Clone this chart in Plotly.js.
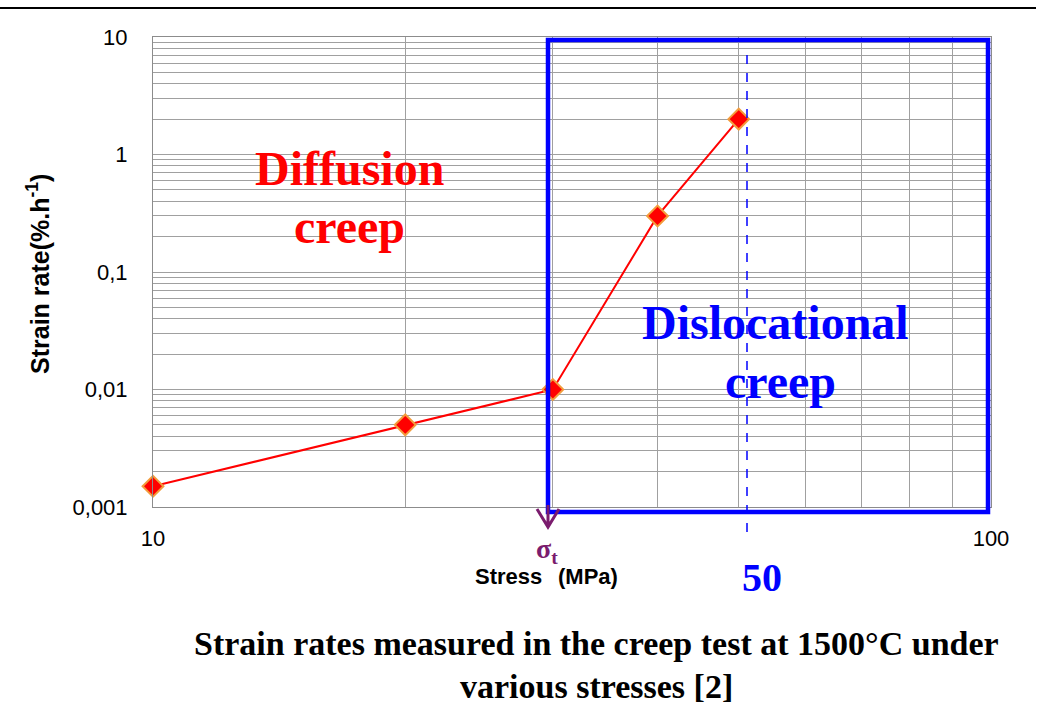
<!DOCTYPE html>
<html>
<head>
<meta charset="utf-8">
<script src="https://cdn.plot.ly/plotly-3.0.1.min.js"></script>
<style>html,body{margin:0;padding:0;background:#fff;}#chart{width:1039px;height:721px;}</style>
</head>
<body>
<div id="chart"></div>
<script>
// Data
const stress = [10, 20, 30, 40, 50];
const strainRate = [0.0015, 0.005, 0.01, 0.3, 2];

const xTickVals = [10, 100];
const xTickText = ['10', '100'];
const xMinorVals = [20, 30, 40, 50, 60, 70, 80, 90];

const yTickVals = [0.001, 0.01, 0.1, 1, 10];
const yTickText = ['0,001', '0,01', '0,1', '1', '10'];
const yMinorVals = [];
yTickVals.slice(0, 4).forEach(d => {
  for (let k = 2; k <= 9; k++) yMinorVals.push(d * k);
});

const W = 1039, H = 721;
const L = 153, R = 991, T = 37, B = 507;
const px = v => (v - L) / (R - L);
const py = v => (B - v) / (B - T);

const SERIF = 'Liberation Serif, Times New Roman, serif';
const SANS = 'Liberation Sans, Arial, sans-serif';

const trace = {
  x: stress, y: strainRate,
  type: 'scatter', mode: 'lines+markers',
  line: {color: '#ff0000', width: 2},
  marker: {symbol: 'diamond', size: 16, color: '#ff0000', line: {color: '#f39c3c', width: 2}},
  hoverinfo: 'x+y', cliponaxis: false
};

const shapes = [
  {type: 'line', xref: 'paper', yref: 'paper', x0: px(0), x1: px(1036), y0: py(8), y1: py(8), line: {color: '#000', width: 2}},
  {type: 'rect', xref: 'paper', yref: 'paper', x0: px(548), x1: px(988), y0: py(512), y1: py(40), line: {color: '#0000ff', width: 4.5}, layer: 'above'},
  {type: 'line', xref: 'paper', yref: 'paper', x0: px(747), x1: px(747), y0: py(55), y1: py(533), line: {color: '#0000ff', width: 1.5, dash: 'dash'}},
  {type: 'path', xref: 'paper', yref: 'paper',
   path: `M ${px(537)},${py(509)} L ${px(548)},${py(527)} L ${px(559)},${py(509)} M ${px(548)},${py(505)} L ${px(548)},${py(527)}`,
   line: {color: '#7b1c6e', width: 3}}
];

function ann(x, y, text, size, color, family, xanchor, angle) {
  return {xref: 'paper', yref: 'paper', x: px(x), y: py(y), text: text, showarrow: false,
          xanchor: xanchor || 'center', yanchor: 'middle', textangle: angle || 0,
          font: {family: family, size: size, color: color}};
}

const annotations = [
  ann(349, 168, '<b>Diffusion</b>', 48, '#ff0000', SERIF),
  ann(349, 226, '<b>creep</b>', 48, '#ff0000', SERIF),
  ann(775, 322, '<b>Dislocational</b>', 48, '#0000ff', SERIF),
  ann(780, 381, '<b>creep</b>', 48, '#0000ff', SERIF),
  ann(762, 577, '<b>50</b>', 40, '#0000ff', SERIF),
  ann(547, 550, '<b>σ<sub>t</sub></b>', 28, '#7b1c6e', SERIF),
  ann(544, 576, '<b>Stress</b>', 22, '#000', SANS, 'right'),
  ann(556, 576, '<b>(MPa)</b>', 22, '#000', SANS, 'left'),
  ann(38, 274, '<b>Strain rate(%.h<sup>-1</sup>)</b>', 25, '#000', SANS, 'center', -90),
  ann(596, 643, '<b>Strain rates measured in the creep test at 1500°C under</b>', 34, '#000', SERIF),
  ann(596, 686, '<b>various stresses [2]</b>', 34, '#000', SERIF)
];

const layout = {
  width: W, height: H,
  margin: {l: L, r: W - R, t: T, b: H - B, pad: 0},
  paper_bgcolor: '#fff', plot_bgcolor: '#fff',
  showlegend: false,
  xaxis: {
    type: 'log', range: [1, 2], tickmode: 'array', tickvals: xTickVals, ticktext: xTickText,
    showgrid: true, gridcolor: '#a0a0a0', gridwidth: 1,
    minor: {tickmode: 'array', tickvals: xMinorVals, showgrid: true, gridcolor: '#a0a0a0', gridwidth: 1, ticks: ''},
    showline: true, linecolor: '#8c8c8c', linewidth: 1, mirror: true,
    ticks: 'outside', ticklen: 12, tickcolor: 'rgba(0,0,0,0)', zeroline: false,
    tickfont: {family: SANS, size: 22, color: '#000'}
  },
  yaxis: {
    type: 'log', range: [-3, 1], tickmode: 'array', tickvals: yTickVals, ticktext: yTickText,
    showgrid: true, gridcolor: '#a0a0a0', gridwidth: 1,
    minor: {tickmode: 'array', tickvals: yMinorVals, showgrid: true, gridcolor: '#a0a0a0', gridwidth: 1, ticks: ''},
    showline: true, linecolor: '#8c8c8c', linewidth: 1, mirror: true,
    ticks: 'outside', ticklen: 20, tickcolor: 'rgba(0,0,0,0)', zeroline: false,
    tickfont: {family: SANS, size: 22, color: '#000'}
  },
  shapes: shapes,
  annotations: annotations
};

Plotly.newPlot('chart', [trace], layout, {displayModeBar: false, staticPlot: true});
</script>
</body>
</html>
